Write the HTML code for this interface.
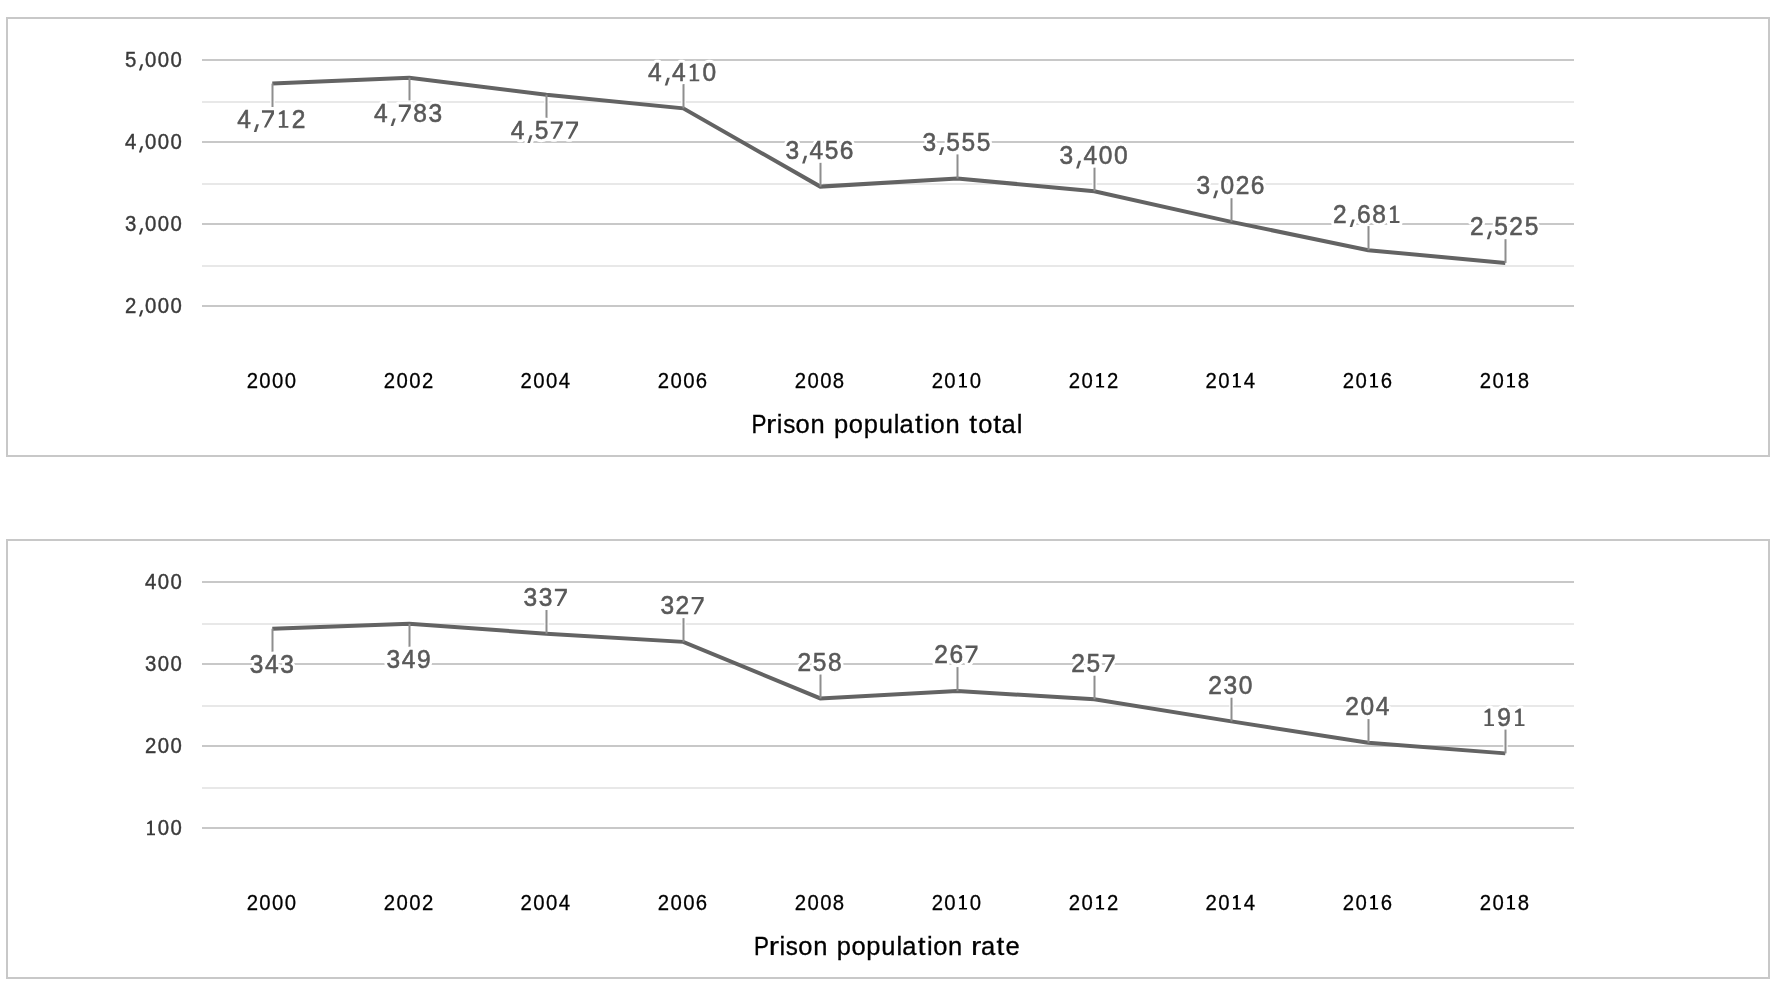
<!DOCTYPE html>
<html><head><meta charset="utf-8"><style>
html,body{margin:0;padding:0;background:#fff;width:1780px;height:986px;overflow:hidden}
svg{display:block;will-change:transform}
text{font-family:"Liberation Sans",sans-serif}
</style></head><body>
<svg width="1780" height="986" viewBox="0 0 1780 986">
<rect width="1780" height="986" fill="#fff"/>
<rect x="7" y="18" width="1762" height="438" fill="none" stroke="#c8c8c8" stroke-width="2"/>
<rect x="202" y="59" width="1372" height="2" fill="#c8c8c8"/>
<rect x="202" y="141" width="1372" height="2" fill="#c8c8c8"/>
<rect x="202" y="223" width="1372" height="2" fill="#c8c8c8"/>
<rect x="202" y="305" width="1372" height="2" fill="#c8c8c8"/>
<rect x="202" y="101" width="1372" height="2" fill="#e8e8e8"/>
<rect x="202" y="183" width="1372" height="2" fill="#e8e8e8"/>
<rect x="202" y="265" width="1372" height="2" fill="#e8e8e8"/>
<text transform="translate(125.08 67.20) scale(0.9588 1)" font-size="21.22" fill="#3a3a3a" stroke="#3a3a3a" stroke-width="0.417">5</text>
<polygon points="140.96,64.20 143.17,64.20 141.05,70.62 138.92,70.62" fill="#3a3a3a"/>
<text transform="translate(145.05 67.20) scale(0.9588 1)" font-size="21.22" fill="#3a3a3a" stroke="#3a3a3a" stroke-width="0.417">0</text>
<text transform="translate(157.76 67.20) scale(0.9588 1)" font-size="21.22" fill="#3a3a3a" stroke="#3a3a3a" stroke-width="0.417">0</text>
<text transform="translate(170.48 67.20) scale(0.9588 1)" font-size="21.22" fill="#3a3a3a" stroke="#3a3a3a" stroke-width="0.417">0</text>
<text transform="translate(125.12 149.20) scale(0.9588 1)" font-size="21.22" fill="#3a3a3a" stroke="#3a3a3a" stroke-width="0.417">4</text>
<polygon points="140.96,146.20 143.17,146.20 141.05,152.62 138.92,152.62" fill="#3a3a3a"/>
<text transform="translate(145.05 149.20) scale(0.9588 1)" font-size="21.22" fill="#3a3a3a" stroke="#3a3a3a" stroke-width="0.417">0</text>
<text transform="translate(157.76 149.20) scale(0.9588 1)" font-size="21.22" fill="#3a3a3a" stroke="#3a3a3a" stroke-width="0.417">0</text>
<text transform="translate(170.48 149.20) scale(0.9588 1)" font-size="21.22" fill="#3a3a3a" stroke="#3a3a3a" stroke-width="0.417">0</text>
<text transform="translate(125.12 231.20) scale(0.9588 1)" font-size="21.22" fill="#3a3a3a" stroke="#3a3a3a" stroke-width="0.417">3</text>
<polygon points="140.96,228.20 143.17,228.20 141.05,234.62 138.92,234.62" fill="#3a3a3a"/>
<text transform="translate(145.05 231.20) scale(0.9588 1)" font-size="21.22" fill="#3a3a3a" stroke="#3a3a3a" stroke-width="0.417">0</text>
<text transform="translate(157.76 231.20) scale(0.9588 1)" font-size="21.22" fill="#3a3a3a" stroke="#3a3a3a" stroke-width="0.417">0</text>
<text transform="translate(170.48 231.20) scale(0.9588 1)" font-size="21.22" fill="#3a3a3a" stroke="#3a3a3a" stroke-width="0.417">0</text>
<text transform="translate(125.06 313.20) scale(0.9588 1)" font-size="21.22" fill="#3a3a3a" stroke="#3a3a3a" stroke-width="0.417">2</text>
<polygon points="140.96,310.20 143.17,310.20 141.05,316.62 138.92,316.62" fill="#3a3a3a"/>
<text transform="translate(145.05 313.20) scale(0.9588 1)" font-size="21.22" fill="#3a3a3a" stroke="#3a3a3a" stroke-width="0.417">0</text>
<text transform="translate(157.76 313.20) scale(0.9588 1)" font-size="21.22" fill="#3a3a3a" stroke="#3a3a3a" stroke-width="0.417">0</text>
<text transform="translate(170.48 313.20) scale(0.9588 1)" font-size="21.22" fill="#3a3a3a" stroke="#3a3a3a" stroke-width="0.417">0</text>
<rect x="270.30" y="83.62" width="4.40" height="23.38" fill="#fff"/>
<rect x="407.30" y="77.79" width="4.40" height="22.61" fill="#fff"/>
<rect x="544.30" y="94.69" width="4.40" height="23.31" fill="#fff"/>
<rect x="681.30" y="84.00" width="4.40" height="24.38" fill="#fff"/>
<rect x="818.30" y="162.80" width="4.40" height="23.81" fill="#fff"/>
<rect x="955.30" y="154.40" width="4.40" height="24.09" fill="#fff"/>
<rect x="1092.30" y="167.60" width="4.40" height="23.60" fill="#fff"/>
<rect x="1229.30" y="198.20" width="4.40" height="23.67" fill="#fff"/>
<rect x="1366.30" y="226.10" width="4.40" height="24.06" fill="#fff"/>
<rect x="1503.30" y="239.20" width="4.40" height="23.75" fill="#fff"/>
<polyline fill="none" stroke="#636363" stroke-width="4.00" stroke-linejoin="miter" points="272.30,83.62 409.30,77.79 546.30,94.69 683.30,108.38 820.30,186.61 957.30,178.49 1094.30,191.20 1231.30,221.87 1368.30,250.16 1505.30,262.95"/>
<rect x="271.50" y="83.62" width="2" height="23.38" fill="#8e8e8e"/>
<rect x="408.50" y="77.79" width="2" height="22.61" fill="#8e8e8e"/>
<rect x="545.50" y="94.69" width="2" height="23.31" fill="#8e8e8e"/>
<rect x="682.50" y="84.00" width="2" height="24.38" fill="#8e8e8e"/>
<rect x="819.50" y="162.80" width="2" height="23.81" fill="#8e8e8e"/>
<rect x="956.50" y="154.40" width="2" height="24.09" fill="#8e8e8e"/>
<rect x="1093.50" y="167.60" width="2" height="23.60" fill="#8e8e8e"/>
<rect x="1230.50" y="198.20" width="2" height="23.67" fill="#8e8e8e"/>
<rect x="1367.50" y="226.10" width="2" height="24.06" fill="#8e8e8e"/>
<rect x="1504.50" y="239.20" width="2" height="23.75" fill="#8e8e8e"/>
<text transform="translate(237.25 127.80) scale(0.9588 1)" font-size="25.58" fill="#fff" stroke="#fff" stroke-width="6.26" stroke-linejoin="round">4</text>
<polygon points="256.29,124.20 258.94,124.20 256.39,131.90 253.84,131.90" fill="#fff" stroke="#fff" stroke-width="6.00" stroke-linejoin="round"/>
<polygon points="261.98,110.30 273.98,110.30 273.98,113.90 266.28,127.60 263.88,127.60 271.38,112.70 261.98,112.70" fill="#fff" stroke="#fff" stroke-width="6.00" stroke-linejoin="round"/>
<polygon points="283.09,110.25 284.74,110.25 284.74,125.90 288.39,125.90 288.39,127.80 278.89,127.80 278.89,125.90 282.24,125.90 282.24,114.10 278.89,114.50 278.89,113.10" fill="#fff" stroke="#fff" stroke-width="6.00" stroke-linejoin="round"/>
<text transform="translate(291.68 127.80) scale(0.9588 1)" font-size="25.58" fill="#fff" stroke="#fff" stroke-width="6.26" stroke-linejoin="round">2</text>
<text transform="translate(374.09 122.00) scale(0.9588 1)" font-size="25.58" fill="#fff" stroke="#fff" stroke-width="6.26" stroke-linejoin="round">4</text>
<polygon points="393.12,118.40 395.77,118.40 393.22,126.10 390.67,126.10" fill="#fff" stroke="#fff" stroke-width="6.00" stroke-linejoin="round"/>
<polygon points="398.82,104.50 410.82,104.50 410.82,108.10 403.12,121.80 400.72,121.80 408.22,106.90 398.82,106.90" fill="#fff" stroke="#fff" stroke-width="6.00" stroke-linejoin="round"/>
<text transform="translate(413.26 122.00) scale(0.9588 1)" font-size="25.58" fill="#fff" stroke="#fff" stroke-width="6.26" stroke-linejoin="round">8</text>
<text transform="translate(428.59 122.00) scale(0.9588 1)" font-size="25.58" fill="#fff" stroke="#fff" stroke-width="6.26" stroke-linejoin="round">3</text>
<text transform="translate(510.80 138.90) scale(0.9588 1)" font-size="25.58" fill="#fff" stroke="#fff" stroke-width="6.26" stroke-linejoin="round">4</text>
<polygon points="529.83,135.30 532.48,135.30 529.93,143.00 527.38,143.00" fill="#fff" stroke="#fff" stroke-width="6.00" stroke-linejoin="round"/>
<text transform="translate(534.73 138.90) scale(0.9588 1)" font-size="25.58" fill="#fff" stroke="#fff" stroke-width="6.26" stroke-linejoin="round">5</text>
<polygon points="550.78,121.40 562.78,121.40 562.78,125.00 555.08,138.70 552.68,138.70 560.18,123.80 550.78,123.80" fill="#fff" stroke="#fff" stroke-width="6.00" stroke-linejoin="round"/>
<polygon points="566.04,121.40 578.04,121.40 578.04,125.00 570.34,138.70 567.94,138.70 575.44,123.80 566.04,123.80" fill="#fff" stroke="#fff" stroke-width="6.00" stroke-linejoin="round"/>
<text transform="translate(648.11 81.30) scale(0.9588 1)" font-size="25.58" fill="#fff" stroke="#fff" stroke-width="6.26" stroke-linejoin="round">4</text>
<polygon points="667.15,77.70 669.80,77.70 667.25,85.40 664.70,85.40" fill="#fff" stroke="#fff" stroke-width="6.00" stroke-linejoin="round"/>
<text transform="translate(672.10 81.30) scale(0.9588 1)" font-size="25.58" fill="#fff" stroke="#fff" stroke-width="6.26" stroke-linejoin="round">4</text>
<polygon points="693.95,63.75 695.60,63.75 695.60,79.40 699.25,79.40 699.25,81.30 689.75,81.30 689.75,79.40 693.10,79.40 693.10,67.60 689.75,68.00 689.75,66.60" fill="#fff" stroke="#fff" stroke-width="6.00" stroke-linejoin="round"/>
<text transform="translate(702.54 81.30) scale(0.9588 1)" font-size="25.58" fill="#fff" stroke="#fff" stroke-width="6.26" stroke-linejoin="round">0</text>
<text transform="translate(785.48 159.40) scale(0.9588 1)" font-size="25.58" fill="#fff" stroke="#fff" stroke-width="6.26" stroke-linejoin="round">3</text>
<polygon points="804.52,155.80 807.17,155.80 804.62,163.50 802.07,163.50" fill="#fff" stroke="#fff" stroke-width="6.00" stroke-linejoin="round"/>
<text transform="translate(809.47 159.40) scale(0.9588 1)" font-size="25.58" fill="#fff" stroke="#fff" stroke-width="6.26" stroke-linejoin="round">4</text>
<text transform="translate(824.68 159.40) scale(0.9588 1)" font-size="25.58" fill="#fff" stroke="#fff" stroke-width="6.26" stroke-linejoin="round">5</text>
<text transform="translate(839.83 159.40) scale(0.9588 1)" font-size="25.58" fill="#fff" stroke="#fff" stroke-width="6.26" stroke-linejoin="round">6</text>
<text transform="translate(922.40 150.90) scale(0.9588 1)" font-size="25.58" fill="#fff" stroke="#fff" stroke-width="6.26" stroke-linejoin="round">3</text>
<polygon points="941.44,147.30 944.09,147.30 941.54,155.00 938.99,155.00" fill="#fff" stroke="#fff" stroke-width="6.00" stroke-linejoin="round"/>
<text transform="translate(946.34 150.90) scale(0.9588 1)" font-size="25.58" fill="#fff" stroke="#fff" stroke-width="6.26" stroke-linejoin="round">5</text>
<text transform="translate(961.60 150.90) scale(0.9588 1)" font-size="25.58" fill="#fff" stroke="#fff" stroke-width="6.26" stroke-linejoin="round">5</text>
<text transform="translate(976.86 150.90) scale(0.9588 1)" font-size="25.58" fill="#fff" stroke="#fff" stroke-width="6.26" stroke-linejoin="round">5</text>
<text transform="translate(1059.48 164.30) scale(0.9588 1)" font-size="25.58" fill="#fff" stroke="#fff" stroke-width="6.26" stroke-linejoin="round">3</text>
<polygon points="1078.52,160.70 1081.17,160.70 1078.62,168.40 1076.07,168.40" fill="#fff" stroke="#fff" stroke-width="6.00" stroke-linejoin="round"/>
<text transform="translate(1083.47 164.30) scale(0.9588 1)" font-size="25.58" fill="#fff" stroke="#fff" stroke-width="6.26" stroke-linejoin="round">4</text>
<text transform="translate(1098.65 164.30) scale(0.9588 1)" font-size="25.58" fill="#fff" stroke="#fff" stroke-width="6.26" stroke-linejoin="round">0</text>
<text transform="translate(1113.91 164.30) scale(0.9588 1)" font-size="25.58" fill="#fff" stroke="#fff" stroke-width="6.26" stroke-linejoin="round">0</text>
<text transform="translate(1196.48 194.20) scale(0.9588 1)" font-size="25.58" fill="#fff" stroke="#fff" stroke-width="6.26" stroke-linejoin="round">3</text>
<polygon points="1215.52,190.60 1218.17,190.60 1215.62,198.30 1213.07,198.30" fill="#fff" stroke="#fff" stroke-width="6.00" stroke-linejoin="round"/>
<text transform="translate(1220.39 194.20) scale(0.9588 1)" font-size="25.58" fill="#fff" stroke="#fff" stroke-width="6.26" stroke-linejoin="round">0</text>
<text transform="translate(1235.65 194.20) scale(0.9588 1)" font-size="25.58" fill="#fff" stroke="#fff" stroke-width="6.26" stroke-linejoin="round">2</text>
<text transform="translate(1250.83 194.20) scale(0.9588 1)" font-size="25.58" fill="#fff" stroke="#fff" stroke-width="6.26" stroke-linejoin="round">6</text>
<text transform="translate(1333.00 223.00) scale(0.9588 1)" font-size="25.58" fill="#fff" stroke="#fff" stroke-width="6.26" stroke-linejoin="round">2</text>
<polygon points="1352.11,219.40 1354.76,219.40 1352.21,227.10 1349.66,227.10" fill="#fff" stroke="#fff" stroke-width="6.00" stroke-linejoin="round"/>
<text transform="translate(1356.90 223.00) scale(0.9588 1)" font-size="25.58" fill="#fff" stroke="#fff" stroke-width="6.26" stroke-linejoin="round">6</text>
<text transform="translate(1372.24 223.00) scale(0.9588 1)" font-size="25.58" fill="#fff" stroke="#fff" stroke-width="6.26" stroke-linejoin="round">8</text>
<polygon points="1394.17,205.45 1395.82,205.45 1395.82,221.10 1399.47,221.10 1399.47,223.00 1389.97,223.00 1389.97,221.10 1393.32,221.10 1393.32,209.30 1389.97,209.70 1389.97,208.30" fill="#fff" stroke="#fff" stroke-width="6.00" stroke-linejoin="round"/>
<text transform="translate(1470.11 235.20) scale(0.9588 1)" font-size="25.58" fill="#fff" stroke="#fff" stroke-width="6.26" stroke-linejoin="round">2</text>
<polygon points="1489.23,231.60 1491.88,231.60 1489.33,239.30 1486.78,239.30" fill="#fff" stroke="#fff" stroke-width="6.00" stroke-linejoin="round"/>
<text transform="translate(1494.13 235.20) scale(0.9588 1)" font-size="25.58" fill="#fff" stroke="#fff" stroke-width="6.26" stroke-linejoin="round">5</text>
<text transform="translate(1509.36 235.20) scale(0.9588 1)" font-size="25.58" fill="#fff" stroke="#fff" stroke-width="6.26" stroke-linejoin="round">2</text>
<text transform="translate(1524.64 235.20) scale(0.9588 1)" font-size="25.58" fill="#fff" stroke="#fff" stroke-width="6.26" stroke-linejoin="round">5</text>
<text transform="translate(237.25 127.80) scale(0.9588 1)" font-size="25.58" fill="#595959" stroke="#595959" stroke-width="0.574">4</text>
<polygon points="256.29,124.20 258.94,124.20 256.39,131.90 253.84,131.90" fill="#595959"/>
<polygon points="261.98,110.30 273.98,110.30 273.98,113.90 266.28,127.60 263.88,127.60 271.38,112.70 261.98,112.70" fill="#595959"/>
<polygon points="283.09,110.25 284.74,110.25 284.74,125.90 288.39,125.90 288.39,127.80 278.89,127.80 278.89,125.90 282.24,125.90 282.24,114.10 278.89,114.50 278.89,113.10" fill="#595959"/>
<text transform="translate(291.68 127.80) scale(0.9588 1)" font-size="25.58" fill="#595959" stroke="#595959" stroke-width="0.574">2</text>
<text transform="translate(374.09 122.00) scale(0.9588 1)" font-size="25.58" fill="#595959" stroke="#595959" stroke-width="0.574">4</text>
<polygon points="393.12,118.40 395.77,118.40 393.22,126.10 390.67,126.10" fill="#595959"/>
<polygon points="398.82,104.50 410.82,104.50 410.82,108.10 403.12,121.80 400.72,121.80 408.22,106.90 398.82,106.90" fill="#595959"/>
<text transform="translate(413.26 122.00) scale(0.9588 1)" font-size="25.58" fill="#595959" stroke="#595959" stroke-width="0.574">8</text>
<text transform="translate(428.59 122.00) scale(0.9588 1)" font-size="25.58" fill="#595959" stroke="#595959" stroke-width="0.574">3</text>
<text transform="translate(510.80 138.90) scale(0.9588 1)" font-size="25.58" fill="#595959" stroke="#595959" stroke-width="0.574">4</text>
<polygon points="529.83,135.30 532.48,135.30 529.93,143.00 527.38,143.00" fill="#595959"/>
<text transform="translate(534.73 138.90) scale(0.9588 1)" font-size="25.58" fill="#595959" stroke="#595959" stroke-width="0.574">5</text>
<polygon points="550.78,121.40 562.78,121.40 562.78,125.00 555.08,138.70 552.68,138.70 560.18,123.80 550.78,123.80" fill="#595959"/>
<polygon points="566.04,121.40 578.04,121.40 578.04,125.00 570.34,138.70 567.94,138.70 575.44,123.80 566.04,123.80" fill="#595959"/>
<text transform="translate(648.11 81.30) scale(0.9588 1)" font-size="25.58" fill="#595959" stroke="#595959" stroke-width="0.574">4</text>
<polygon points="667.15,77.70 669.80,77.70 667.25,85.40 664.70,85.40" fill="#595959"/>
<text transform="translate(672.10 81.30) scale(0.9588 1)" font-size="25.58" fill="#595959" stroke="#595959" stroke-width="0.574">4</text>
<polygon points="693.95,63.75 695.60,63.75 695.60,79.40 699.25,79.40 699.25,81.30 689.75,81.30 689.75,79.40 693.10,79.40 693.10,67.60 689.75,68.00 689.75,66.60" fill="#595959"/>
<text transform="translate(702.54 81.30) scale(0.9588 1)" font-size="25.58" fill="#595959" stroke="#595959" stroke-width="0.574">0</text>
<text transform="translate(785.48 159.40) scale(0.9588 1)" font-size="25.58" fill="#595959" stroke="#595959" stroke-width="0.574">3</text>
<polygon points="804.52,155.80 807.17,155.80 804.62,163.50 802.07,163.50" fill="#595959"/>
<text transform="translate(809.47 159.40) scale(0.9588 1)" font-size="25.58" fill="#595959" stroke="#595959" stroke-width="0.574">4</text>
<text transform="translate(824.68 159.40) scale(0.9588 1)" font-size="25.58" fill="#595959" stroke="#595959" stroke-width="0.574">5</text>
<text transform="translate(839.83 159.40) scale(0.9588 1)" font-size="25.58" fill="#595959" stroke="#595959" stroke-width="0.574">6</text>
<text transform="translate(922.40 150.90) scale(0.9588 1)" font-size="25.58" fill="#595959" stroke="#595959" stroke-width="0.574">3</text>
<polygon points="941.44,147.30 944.09,147.30 941.54,155.00 938.99,155.00" fill="#595959"/>
<text transform="translate(946.34 150.90) scale(0.9588 1)" font-size="25.58" fill="#595959" stroke="#595959" stroke-width="0.574">5</text>
<text transform="translate(961.60 150.90) scale(0.9588 1)" font-size="25.58" fill="#595959" stroke="#595959" stroke-width="0.574">5</text>
<text transform="translate(976.86 150.90) scale(0.9588 1)" font-size="25.58" fill="#595959" stroke="#595959" stroke-width="0.574">5</text>
<text transform="translate(1059.48 164.30) scale(0.9588 1)" font-size="25.58" fill="#595959" stroke="#595959" stroke-width="0.574">3</text>
<polygon points="1078.52,160.70 1081.17,160.70 1078.62,168.40 1076.07,168.40" fill="#595959"/>
<text transform="translate(1083.47 164.30) scale(0.9588 1)" font-size="25.58" fill="#595959" stroke="#595959" stroke-width="0.574">4</text>
<text transform="translate(1098.65 164.30) scale(0.9588 1)" font-size="25.58" fill="#595959" stroke="#595959" stroke-width="0.574">0</text>
<text transform="translate(1113.91 164.30) scale(0.9588 1)" font-size="25.58" fill="#595959" stroke="#595959" stroke-width="0.574">0</text>
<text transform="translate(1196.48 194.20) scale(0.9588 1)" font-size="25.58" fill="#595959" stroke="#595959" stroke-width="0.574">3</text>
<polygon points="1215.52,190.60 1218.17,190.60 1215.62,198.30 1213.07,198.30" fill="#595959"/>
<text transform="translate(1220.39 194.20) scale(0.9588 1)" font-size="25.58" fill="#595959" stroke="#595959" stroke-width="0.574">0</text>
<text transform="translate(1235.65 194.20) scale(0.9588 1)" font-size="25.58" fill="#595959" stroke="#595959" stroke-width="0.574">2</text>
<text transform="translate(1250.83 194.20) scale(0.9588 1)" font-size="25.58" fill="#595959" stroke="#595959" stroke-width="0.574">6</text>
<text transform="translate(1333.00 223.00) scale(0.9588 1)" font-size="25.58" fill="#595959" stroke="#595959" stroke-width="0.574">2</text>
<polygon points="1352.11,219.40 1354.76,219.40 1352.21,227.10 1349.66,227.10" fill="#595959"/>
<text transform="translate(1356.90 223.00) scale(0.9588 1)" font-size="25.58" fill="#595959" stroke="#595959" stroke-width="0.574">6</text>
<text transform="translate(1372.24 223.00) scale(0.9588 1)" font-size="25.58" fill="#595959" stroke="#595959" stroke-width="0.574">8</text>
<polygon points="1394.17,205.45 1395.82,205.45 1395.82,221.10 1399.47,221.10 1399.47,223.00 1389.97,223.00 1389.97,221.10 1393.32,221.10 1393.32,209.30 1389.97,209.70 1389.97,208.30" fill="#595959"/>
<text transform="translate(1470.11 235.20) scale(0.9588 1)" font-size="25.58" fill="#595959" stroke="#595959" stroke-width="0.574">2</text>
<polygon points="1489.23,231.60 1491.88,231.60 1489.33,239.30 1486.78,239.30" fill="#595959"/>
<text transform="translate(1494.13 235.20) scale(0.9588 1)" font-size="25.58" fill="#595959" stroke="#595959" stroke-width="0.574">5</text>
<text transform="translate(1509.36 235.20) scale(0.9588 1)" font-size="25.58" fill="#595959" stroke="#595959" stroke-width="0.574">2</text>
<text transform="translate(1524.64 235.20) scale(0.9588 1)" font-size="25.58" fill="#595959" stroke="#595959" stroke-width="0.574">5</text>
<text transform="translate(246.66 387.60) scale(0.9588 1)" font-size="21.22" fill="#000000" stroke="#000000" stroke-width="0.261">2</text>
<text transform="translate(259.37 387.60) scale(0.9588 1)" font-size="21.22" fill="#000000" stroke="#000000" stroke-width="0.261">0</text>
<text transform="translate(272.09 387.60) scale(0.9588 1)" font-size="21.22" fill="#000000" stroke="#000000" stroke-width="0.261">0</text>
<text transform="translate(284.80 387.60) scale(0.9588 1)" font-size="21.22" fill="#000000" stroke="#000000" stroke-width="0.261">0</text>
<text transform="translate(383.77 387.60) scale(0.9588 1)" font-size="21.22" fill="#000000" stroke="#000000" stroke-width="0.261">2</text>
<text transform="translate(396.48 387.60) scale(0.9588 1)" font-size="21.22" fill="#000000" stroke="#000000" stroke-width="0.261">0</text>
<text transform="translate(409.20 387.60) scale(0.9588 1)" font-size="21.22" fill="#000000" stroke="#000000" stroke-width="0.261">0</text>
<text transform="translate(421.91 387.60) scale(0.9588 1)" font-size="21.22" fill="#000000" stroke="#000000" stroke-width="0.261">2</text>
<text transform="translate(520.52 387.60) scale(0.9588 1)" font-size="21.22" fill="#000000" stroke="#000000" stroke-width="0.261">2</text>
<text transform="translate(533.24 387.60) scale(0.9588 1)" font-size="21.22" fill="#000000" stroke="#000000" stroke-width="0.261">0</text>
<text transform="translate(545.95 387.60) scale(0.9588 1)" font-size="21.22" fill="#000000" stroke="#000000" stroke-width="0.261">0</text>
<text transform="translate(558.73 387.60) scale(0.9588 1)" font-size="21.22" fill="#000000" stroke="#000000" stroke-width="0.261">4</text>
<text transform="translate(657.74 387.60) scale(0.9588 1)" font-size="21.22" fill="#000000" stroke="#000000" stroke-width="0.261">2</text>
<text transform="translate(670.45 387.60) scale(0.9588 1)" font-size="21.22" fill="#000000" stroke="#000000" stroke-width="0.261">0</text>
<text transform="translate(683.17 387.60) scale(0.9588 1)" font-size="21.22" fill="#000000" stroke="#000000" stroke-width="0.261">0</text>
<text transform="translate(695.81 387.60) scale(0.9588 1)" font-size="21.22" fill="#000000" stroke="#000000" stroke-width="0.261">6</text>
<text transform="translate(794.70 387.60) scale(0.9588 1)" font-size="21.22" fill="#000000" stroke="#000000" stroke-width="0.261">2</text>
<text transform="translate(807.42 387.60) scale(0.9588 1)" font-size="21.22" fill="#000000" stroke="#000000" stroke-width="0.261">0</text>
<text transform="translate(820.13 387.60) scale(0.9588 1)" font-size="21.22" fill="#000000" stroke="#000000" stroke-width="0.261">0</text>
<text transform="translate(832.84 387.60) scale(0.9588 1)" font-size="21.22" fill="#000000" stroke="#000000" stroke-width="0.261">8</text>
<text transform="translate(931.66 387.60) scale(0.9588 1)" font-size="21.22" fill="#000000" stroke="#000000" stroke-width="0.261">2</text>
<text transform="translate(944.37 387.60) scale(0.9588 1)" font-size="21.22" fill="#000000" stroke="#000000" stroke-width="0.261">0</text>
<polygon points="962.62,372.98 963.99,372.98 963.99,386.02 967.03,386.02 967.03,387.60 959.12,387.60 959.12,386.02 961.91,386.02 961.91,376.18 959.12,376.52 959.12,375.35" fill="#000000"/>
<text transform="translate(969.80 387.60) scale(0.9588 1)" font-size="21.22" fill="#000000" stroke="#000000" stroke-width="0.261">0</text>
<text transform="translate(1068.77 387.60) scale(0.9588 1)" font-size="21.22" fill="#000000" stroke="#000000" stroke-width="0.261">2</text>
<text transform="translate(1081.48 387.60) scale(0.9588 1)" font-size="21.22" fill="#000000" stroke="#000000" stroke-width="0.261">0</text>
<polygon points="1099.73,372.98 1101.11,372.98 1101.11,386.02 1104.15,386.02 1104.15,387.60 1096.23,387.60 1096.23,386.02 1099.02,386.02 1099.02,376.18 1096.23,376.52 1096.23,375.35" fill="#000000"/>
<text transform="translate(1106.91 387.60) scale(0.9588 1)" font-size="21.22" fill="#000000" stroke="#000000" stroke-width="0.261">2</text>
<text transform="translate(1205.52 387.60) scale(0.9588 1)" font-size="21.22" fill="#000000" stroke="#000000" stroke-width="0.261">2</text>
<text transform="translate(1218.24 387.60) scale(0.9588 1)" font-size="21.22" fill="#000000" stroke="#000000" stroke-width="0.261">0</text>
<polygon points="1236.49,372.98 1237.86,372.98 1237.86,386.02 1240.90,386.02 1240.90,387.60 1232.99,387.60 1232.99,386.02 1235.78,386.02 1235.78,376.18 1232.99,376.52 1232.99,375.35" fill="#000000"/>
<text transform="translate(1243.73 387.60) scale(0.9588 1)" font-size="21.22" fill="#000000" stroke="#000000" stroke-width="0.261">4</text>
<text transform="translate(1342.74 387.60) scale(0.9588 1)" font-size="21.22" fill="#000000" stroke="#000000" stroke-width="0.261">2</text>
<text transform="translate(1355.45 387.60) scale(0.9588 1)" font-size="21.22" fill="#000000" stroke="#000000" stroke-width="0.261">0</text>
<polygon points="1373.70,372.98 1375.08,372.98 1375.08,386.02 1378.12,386.02 1378.12,387.60 1370.20,387.60 1370.20,386.02 1372.99,386.02 1372.99,376.18 1370.20,376.52 1370.20,375.35" fill="#000000"/>
<text transform="translate(1380.81 387.60) scale(0.9588 1)" font-size="21.22" fill="#000000" stroke="#000000" stroke-width="0.261">6</text>
<text transform="translate(1479.70 387.60) scale(0.9588 1)" font-size="21.22" fill="#000000" stroke="#000000" stroke-width="0.261">2</text>
<text transform="translate(1492.42 387.60) scale(0.9588 1)" font-size="21.22" fill="#000000" stroke="#000000" stroke-width="0.261">0</text>
<polygon points="1510.66,372.98 1512.04,372.98 1512.04,386.02 1515.08,386.02 1515.08,387.60 1507.16,387.60 1507.16,386.02 1509.95,386.02 1509.95,376.18 1507.16,376.52 1507.16,375.35" fill="#000000"/>
<text transform="translate(1517.84 387.60) scale(0.9588 1)" font-size="21.22" fill="#000000" stroke="#000000" stroke-width="0.261">8</text>
<text transform="translate(751.43 432.90) scale(0.8976 1)" font-size="25.00" fill="#000000" stroke="#000000" stroke-width="0.334">P</text>
<text transform="translate(766.00 432.90) scale(1.2444 1)" font-size="25.00" fill="#000000" stroke="#000000" stroke-width="0.241">r</text>
<text transform="translate(776.80 432.90) scale(1.0200 1)" font-size="25.00" fill="#000000" stroke="#000000" stroke-width="0.294">i</text>
<text transform="translate(783.20 432.90) scale(0.9690 1)" font-size="25.00" fill="#000000" stroke="#000000" stroke-width="0.310">s</text>
<text transform="translate(795.60 432.90) scale(1.0200 1)" font-size="25.00" fill="#000000" stroke="#000000" stroke-width="0.294">o</text>
<text transform="translate(810.48 432.90) scale(1.0200 1)" font-size="25.00" fill="#000000" stroke="#000000" stroke-width="0.294">n</text>
<text transform="translate(834.11 432.90) scale(1.0200 1)" font-size="25.00" fill="#000000" stroke="#000000" stroke-width="0.294">p</text>
<text transform="translate(848.79 432.90) scale(1.0200 1)" font-size="25.00" fill="#000000" stroke="#000000" stroke-width="0.294">o</text>
<text transform="translate(863.63 432.90) scale(1.0200 1)" font-size="25.00" fill="#000000" stroke="#000000" stroke-width="0.294">p</text>
<text transform="translate(878.67 432.90) scale(1.0200 1)" font-size="25.00" fill="#000000" stroke="#000000" stroke-width="0.294">u</text>
<text transform="translate(893.79 432.90) scale(1.0200 1)" font-size="25.00" fill="#000000" stroke="#000000" stroke-width="0.294">l</text>
<text transform="translate(899.47 432.90) scale(1.0200 1)" font-size="25.00" fill="#000000" stroke="#000000" stroke-width="0.294">a</text>
<text transform="translate(915.03 432.90) scale(1.1220 1)" font-size="25.00" fill="#000000" stroke="#000000" stroke-width="0.267">t</text>
<text transform="translate(924.21 432.90) scale(1.0200 1)" font-size="25.00" fill="#000000" stroke="#000000" stroke-width="0.294">i</text>
<text transform="translate(930.51 432.90) scale(1.0200 1)" font-size="25.00" fill="#000000" stroke="#000000" stroke-width="0.294">o</text>
<text transform="translate(945.39 432.90) scale(1.0200 1)" font-size="25.00" fill="#000000" stroke="#000000" stroke-width="0.294">n</text>
<text transform="translate(969.28 432.90) scale(1.1220 1)" font-size="25.00" fill="#000000" stroke="#000000" stroke-width="0.267">t</text>
<text transform="translate(978.20 432.90) scale(1.0200 1)" font-size="25.00" fill="#000000" stroke="#000000" stroke-width="0.294">o</text>
<text transform="translate(993.30 432.90) scale(1.1220 1)" font-size="25.00" fill="#000000" stroke="#000000" stroke-width="0.267">t</text>
<text transform="translate(1001.60 432.90) scale(1.0200 1)" font-size="25.00" fill="#000000" stroke="#000000" stroke-width="0.294">a</text>
<text transform="translate(1016.87 432.90) scale(1.0200 1)" font-size="25.00" fill="#000000" stroke="#000000" stroke-width="0.294">l</text>
<rect x="7" y="540" width="1762" height="438" fill="none" stroke="#c8c8c8" stroke-width="2"/>
<rect x="202" y="581" width="1372" height="2" fill="#c8c8c8"/>
<rect x="202" y="663" width="1372" height="2" fill="#c8c8c8"/>
<rect x="202" y="745" width="1372" height="2" fill="#c8c8c8"/>
<rect x="202" y="827" width="1372" height="2" fill="#c8c8c8"/>
<rect x="202" y="623" width="1372" height="2" fill="#e8e8e8"/>
<rect x="202" y="705" width="1372" height="2" fill="#e8e8e8"/>
<rect x="202" y="787" width="1372" height="2" fill="#e8e8e8"/>
<text transform="translate(145.11 589.20) scale(0.9588 1)" font-size="21.22" fill="#3a3a3a" stroke="#3a3a3a" stroke-width="0.417">4</text>
<text transform="translate(157.76 589.20) scale(0.9588 1)" font-size="21.22" fill="#3a3a3a" stroke="#3a3a3a" stroke-width="0.417">0</text>
<text transform="translate(170.48 589.20) scale(0.9588 1)" font-size="21.22" fill="#3a3a3a" stroke="#3a3a3a" stroke-width="0.417">0</text>
<text transform="translate(145.11 671.20) scale(0.9588 1)" font-size="21.22" fill="#3a3a3a" stroke="#3a3a3a" stroke-width="0.417">3</text>
<text transform="translate(157.76 671.20) scale(0.9588 1)" font-size="21.22" fill="#3a3a3a" stroke="#3a3a3a" stroke-width="0.417">0</text>
<text transform="translate(170.48 671.20) scale(0.9588 1)" font-size="21.22" fill="#3a3a3a" stroke="#3a3a3a" stroke-width="0.417">0</text>
<text transform="translate(145.05 753.20) scale(0.9588 1)" font-size="21.22" fill="#3a3a3a" stroke="#3a3a3a" stroke-width="0.417">2</text>
<text transform="translate(157.76 753.20) scale(0.9588 1)" font-size="21.22" fill="#3a3a3a" stroke="#3a3a3a" stroke-width="0.417">0</text>
<text transform="translate(170.48 753.20) scale(0.9588 1)" font-size="21.22" fill="#3a3a3a" stroke="#3a3a3a" stroke-width="0.417">0</text>
<polygon points="150.58,820.58 151.96,820.58 151.96,833.62 155.00,833.62 155.00,835.20 147.08,835.20 147.08,833.62 149.87,833.62 149.87,823.78 147.08,824.12 147.08,822.95" fill="#3a3a3a"/>
<text transform="translate(157.76 835.20) scale(0.9588 1)" font-size="21.22" fill="#3a3a3a" stroke="#3a3a3a" stroke-width="0.417">0</text>
<text transform="translate(170.48 835.20) scale(0.9588 1)" font-size="21.22" fill="#3a3a3a" stroke="#3a3a3a" stroke-width="0.417">0</text>
<rect x="270.30" y="628.74" width="4.40" height="23.06" fill="#fff"/>
<rect x="407.30" y="623.82" width="4.40" height="23.08" fill="#fff"/>
<rect x="544.30" y="610.00" width="4.40" height="23.66" fill="#fff"/>
<rect x="681.30" y="618.10" width="4.40" height="23.76" fill="#fff"/>
<rect x="818.30" y="674.50" width="4.40" height="23.94" fill="#fff"/>
<rect x="955.30" y="667.10" width="4.40" height="23.96" fill="#fff"/>
<rect x="1092.30" y="675.70" width="4.40" height="23.56" fill="#fff"/>
<rect x="1229.30" y="697.70" width="4.40" height="23.70" fill="#fff"/>
<rect x="1366.30" y="719.10" width="4.40" height="23.62" fill="#fff"/>
<rect x="1503.30" y="729.60" width="4.40" height="23.78" fill="#fff"/>
<polyline fill="none" stroke="#636363" stroke-width="4.00" stroke-linejoin="miter" points="272.30,628.74 409.30,623.82 546.30,633.66 683.30,641.86 820.30,698.44 957.30,691.06 1094.30,699.26 1231.30,721.40 1368.30,742.72 1505.30,753.38"/>
<rect x="271.50" y="628.74" width="2" height="23.06" fill="#8e8e8e"/>
<rect x="408.50" y="623.82" width="2" height="23.08" fill="#8e8e8e"/>
<rect x="545.50" y="610.00" width="2" height="23.66" fill="#8e8e8e"/>
<rect x="682.50" y="618.10" width="2" height="23.76" fill="#8e8e8e"/>
<rect x="819.50" y="674.50" width="2" height="23.94" fill="#8e8e8e"/>
<rect x="956.50" y="667.10" width="2" height="23.96" fill="#8e8e8e"/>
<rect x="1093.50" y="675.70" width="2" height="23.56" fill="#8e8e8e"/>
<rect x="1230.50" y="697.70" width="2" height="23.70" fill="#8e8e8e"/>
<rect x="1367.50" y="719.10" width="2" height="23.62" fill="#8e8e8e"/>
<rect x="1504.50" y="729.60" width="2" height="23.78" fill="#8e8e8e"/>
<text transform="translate(249.69 673.40) scale(0.9588 1)" font-size="25.58" fill="#fff" stroke="#fff" stroke-width="6.26" stroke-linejoin="round">3</text>
<text transform="translate(264.96 673.40) scale(0.9588 1)" font-size="25.58" fill="#fff" stroke="#fff" stroke-width="6.26" stroke-linejoin="round">4</text>
<text transform="translate(280.21 673.40) scale(0.9588 1)" font-size="25.58" fill="#fff" stroke="#fff" stroke-width="6.26" stroke-linejoin="round">3</text>
<text transform="translate(386.57 668.40) scale(0.9588 1)" font-size="25.58" fill="#fff" stroke="#fff" stroke-width="6.26" stroke-linejoin="round">3</text>
<text transform="translate(401.83 668.40) scale(0.9588 1)" font-size="25.58" fill="#fff" stroke="#fff" stroke-width="6.26" stroke-linejoin="round">4</text>
<text transform="translate(417.02 668.40) scale(0.9588 1)" font-size="25.58" fill="#fff" stroke="#fff" stroke-width="6.26" stroke-linejoin="round">9</text>
<text transform="translate(523.60 606.30) scale(0.9588 1)" font-size="25.58" fill="#fff" stroke="#fff" stroke-width="6.26" stroke-linejoin="round">3</text>
<text transform="translate(538.86 606.30) scale(0.9588 1)" font-size="25.58" fill="#fff" stroke="#fff" stroke-width="6.26" stroke-linejoin="round">3</text>
<polygon points="554.87,588.80 566.87,588.80 566.87,592.40 559.17,606.10 556.77,606.10 564.27,591.20 554.87,591.20" fill="#fff" stroke="#fff" stroke-width="6.00" stroke-linejoin="round"/>
<text transform="translate(660.40 614.40) scale(0.9588 1)" font-size="25.58" fill="#fff" stroke="#fff" stroke-width="6.26" stroke-linejoin="round">3</text>
<text transform="translate(675.59 614.40) scale(0.9588 1)" font-size="25.58" fill="#fff" stroke="#fff" stroke-width="6.26" stroke-linejoin="round">2</text>
<polygon points="691.67,596.90 703.67,596.90 703.67,600.50 695.97,614.20 693.57,614.20 701.07,599.30 691.67,599.30" fill="#fff" stroke="#fff" stroke-width="6.00" stroke-linejoin="round"/>
<text transform="translate(797.39 671.10) scale(0.9588 1)" font-size="25.58" fill="#fff" stroke="#fff" stroke-width="6.26" stroke-linejoin="round">2</text>
<text transform="translate(812.67 671.10) scale(0.9588 1)" font-size="25.58" fill="#fff" stroke="#fff" stroke-width="6.26" stroke-linejoin="round">5</text>
<text transform="translate(827.90 671.10) scale(0.9588 1)" font-size="25.58" fill="#fff" stroke="#fff" stroke-width="6.26" stroke-linejoin="round">8</text>
<text transform="translate(934.22 663.00) scale(0.9588 1)" font-size="25.58" fill="#fff" stroke="#fff" stroke-width="6.26" stroke-linejoin="round">2</text>
<text transform="translate(949.39 663.00) scale(0.9588 1)" font-size="25.58" fill="#fff" stroke="#fff" stroke-width="6.26" stroke-linejoin="round">6</text>
<polygon points="965.55,645.50 977.55,645.50 977.55,649.10 969.85,662.80 967.45,662.80 974.95,647.90 965.55,647.90" fill="#fff" stroke="#fff" stroke-width="6.00" stroke-linejoin="round"/>
<text transform="translate(1071.32 672.10) scale(0.9588 1)" font-size="25.58" fill="#fff" stroke="#fff" stroke-width="6.26" stroke-linejoin="round">2</text>
<text transform="translate(1086.60 672.10) scale(0.9588 1)" font-size="25.58" fill="#fff" stroke="#fff" stroke-width="6.26" stroke-linejoin="round">5</text>
<polygon points="1102.65,654.60 1114.65,654.60 1114.65,658.20 1106.95,671.90 1104.55,671.90 1112.05,657.00 1102.65,657.00" fill="#fff" stroke="#fff" stroke-width="6.00" stroke-linejoin="round"/>
<text transform="translate(1208.28 694.20) scale(0.9588 1)" font-size="25.58" fill="#fff" stroke="#fff" stroke-width="6.26" stroke-linejoin="round">2</text>
<text transform="translate(1223.61 694.20) scale(0.9588 1)" font-size="25.58" fill="#fff" stroke="#fff" stroke-width="6.26" stroke-linejoin="round">3</text>
<text transform="translate(1238.80 694.20) scale(0.9588 1)" font-size="25.58" fill="#fff" stroke="#fff" stroke-width="6.26" stroke-linejoin="round">0</text>
<text transform="translate(1345.13 715.10) scale(0.9588 1)" font-size="25.58" fill="#fff" stroke="#fff" stroke-width="6.26" stroke-linejoin="round">2</text>
<text transform="translate(1360.38 715.10) scale(0.9588 1)" font-size="25.58" fill="#fff" stroke="#fff" stroke-width="6.26" stroke-linejoin="round">0</text>
<text transform="translate(1375.72 715.10) scale(0.9588 1)" font-size="25.58" fill="#fff" stroke="#fff" stroke-width="6.26" stroke-linejoin="round">4</text>
<polygon points="1488.69,708.55 1490.34,708.55 1490.34,724.20 1493.99,724.20 1493.99,726.10 1484.49,726.10 1484.49,724.20 1487.84,724.20 1487.84,712.40 1484.49,712.80 1484.49,711.40" fill="#fff" stroke="#fff" stroke-width="6.00" stroke-linejoin="round"/>
<text transform="translate(1497.29 726.10) scale(0.9588 1)" font-size="25.58" fill="#fff" stroke="#fff" stroke-width="6.26" stroke-linejoin="round">9</text>
<polygon points="1519.21,708.55 1520.86,708.55 1520.86,724.20 1524.51,724.20 1524.51,726.10 1515.01,726.10 1515.01,724.20 1518.36,724.20 1518.36,712.40 1515.01,712.80 1515.01,711.40" fill="#fff" stroke="#fff" stroke-width="6.00" stroke-linejoin="round"/>
<text transform="translate(249.69 673.40) scale(0.9588 1)" font-size="25.58" fill="#595959" stroke="#595959" stroke-width="0.574">3</text>
<text transform="translate(264.96 673.40) scale(0.9588 1)" font-size="25.58" fill="#595959" stroke="#595959" stroke-width="0.574">4</text>
<text transform="translate(280.21 673.40) scale(0.9588 1)" font-size="25.58" fill="#595959" stroke="#595959" stroke-width="0.574">3</text>
<text transform="translate(386.57 668.40) scale(0.9588 1)" font-size="25.58" fill="#595959" stroke="#595959" stroke-width="0.574">3</text>
<text transform="translate(401.83 668.40) scale(0.9588 1)" font-size="25.58" fill="#595959" stroke="#595959" stroke-width="0.574">4</text>
<text transform="translate(417.02 668.40) scale(0.9588 1)" font-size="25.58" fill="#595959" stroke="#595959" stroke-width="0.574">9</text>
<text transform="translate(523.60 606.30) scale(0.9588 1)" font-size="25.58" fill="#595959" stroke="#595959" stroke-width="0.574">3</text>
<text transform="translate(538.86 606.30) scale(0.9588 1)" font-size="25.58" fill="#595959" stroke="#595959" stroke-width="0.574">3</text>
<polygon points="554.87,588.80 566.87,588.80 566.87,592.40 559.17,606.10 556.77,606.10 564.27,591.20 554.87,591.20" fill="#595959"/>
<text transform="translate(660.40 614.40) scale(0.9588 1)" font-size="25.58" fill="#595959" stroke="#595959" stroke-width="0.574">3</text>
<text transform="translate(675.59 614.40) scale(0.9588 1)" font-size="25.58" fill="#595959" stroke="#595959" stroke-width="0.574">2</text>
<polygon points="691.67,596.90 703.67,596.90 703.67,600.50 695.97,614.20 693.57,614.20 701.07,599.30 691.67,599.30" fill="#595959"/>
<text transform="translate(797.39 671.10) scale(0.9588 1)" font-size="25.58" fill="#595959" stroke="#595959" stroke-width="0.574">2</text>
<text transform="translate(812.67 671.10) scale(0.9588 1)" font-size="25.58" fill="#595959" stroke="#595959" stroke-width="0.574">5</text>
<text transform="translate(827.90 671.10) scale(0.9588 1)" font-size="25.58" fill="#595959" stroke="#595959" stroke-width="0.574">8</text>
<text transform="translate(934.22 663.00) scale(0.9588 1)" font-size="25.58" fill="#595959" stroke="#595959" stroke-width="0.574">2</text>
<text transform="translate(949.39 663.00) scale(0.9588 1)" font-size="25.58" fill="#595959" stroke="#595959" stroke-width="0.574">6</text>
<polygon points="965.55,645.50 977.55,645.50 977.55,649.10 969.85,662.80 967.45,662.80 974.95,647.90 965.55,647.90" fill="#595959"/>
<text transform="translate(1071.32 672.10) scale(0.9588 1)" font-size="25.58" fill="#595959" stroke="#595959" stroke-width="0.574">2</text>
<text transform="translate(1086.60 672.10) scale(0.9588 1)" font-size="25.58" fill="#595959" stroke="#595959" stroke-width="0.574">5</text>
<polygon points="1102.65,654.60 1114.65,654.60 1114.65,658.20 1106.95,671.90 1104.55,671.90 1112.05,657.00 1102.65,657.00" fill="#595959"/>
<text transform="translate(1208.28 694.20) scale(0.9588 1)" font-size="25.58" fill="#595959" stroke="#595959" stroke-width="0.574">2</text>
<text transform="translate(1223.61 694.20) scale(0.9588 1)" font-size="25.58" fill="#595959" stroke="#595959" stroke-width="0.574">3</text>
<text transform="translate(1238.80 694.20) scale(0.9588 1)" font-size="25.58" fill="#595959" stroke="#595959" stroke-width="0.574">0</text>
<text transform="translate(1345.13 715.10) scale(0.9588 1)" font-size="25.58" fill="#595959" stroke="#595959" stroke-width="0.574">2</text>
<text transform="translate(1360.38 715.10) scale(0.9588 1)" font-size="25.58" fill="#595959" stroke="#595959" stroke-width="0.574">0</text>
<text transform="translate(1375.72 715.10) scale(0.9588 1)" font-size="25.58" fill="#595959" stroke="#595959" stroke-width="0.574">4</text>
<polygon points="1488.69,708.55 1490.34,708.55 1490.34,724.20 1493.99,724.20 1493.99,726.10 1484.49,726.10 1484.49,724.20 1487.84,724.20 1487.84,712.40 1484.49,712.80 1484.49,711.40" fill="#595959"/>
<text transform="translate(1497.29 726.10) scale(0.9588 1)" font-size="25.58" fill="#595959" stroke="#595959" stroke-width="0.574">9</text>
<polygon points="1519.21,708.55 1520.86,708.55 1520.86,724.20 1524.51,724.20 1524.51,726.10 1515.01,726.10 1515.01,724.20 1518.36,724.20 1518.36,712.40 1515.01,712.80 1515.01,711.40" fill="#595959"/>
<text transform="translate(246.66 909.60) scale(0.9588 1)" font-size="21.22" fill="#000000" stroke="#000000" stroke-width="0.261">2</text>
<text transform="translate(259.37 909.60) scale(0.9588 1)" font-size="21.22" fill="#000000" stroke="#000000" stroke-width="0.261">0</text>
<text transform="translate(272.09 909.60) scale(0.9588 1)" font-size="21.22" fill="#000000" stroke="#000000" stroke-width="0.261">0</text>
<text transform="translate(284.80 909.60) scale(0.9588 1)" font-size="21.22" fill="#000000" stroke="#000000" stroke-width="0.261">0</text>
<text transform="translate(383.77 909.60) scale(0.9588 1)" font-size="21.22" fill="#000000" stroke="#000000" stroke-width="0.261">2</text>
<text transform="translate(396.48 909.60) scale(0.9588 1)" font-size="21.22" fill="#000000" stroke="#000000" stroke-width="0.261">0</text>
<text transform="translate(409.20 909.60) scale(0.9588 1)" font-size="21.22" fill="#000000" stroke="#000000" stroke-width="0.261">0</text>
<text transform="translate(421.91 909.60) scale(0.9588 1)" font-size="21.22" fill="#000000" stroke="#000000" stroke-width="0.261">2</text>
<text transform="translate(520.52 909.60) scale(0.9588 1)" font-size="21.22" fill="#000000" stroke="#000000" stroke-width="0.261">2</text>
<text transform="translate(533.24 909.60) scale(0.9588 1)" font-size="21.22" fill="#000000" stroke="#000000" stroke-width="0.261">0</text>
<text transform="translate(545.95 909.60) scale(0.9588 1)" font-size="21.22" fill="#000000" stroke="#000000" stroke-width="0.261">0</text>
<text transform="translate(558.73 909.60) scale(0.9588 1)" font-size="21.22" fill="#000000" stroke="#000000" stroke-width="0.261">4</text>
<text transform="translate(657.74 909.60) scale(0.9588 1)" font-size="21.22" fill="#000000" stroke="#000000" stroke-width="0.261">2</text>
<text transform="translate(670.45 909.60) scale(0.9588 1)" font-size="21.22" fill="#000000" stroke="#000000" stroke-width="0.261">0</text>
<text transform="translate(683.17 909.60) scale(0.9588 1)" font-size="21.22" fill="#000000" stroke="#000000" stroke-width="0.261">0</text>
<text transform="translate(695.81 909.60) scale(0.9588 1)" font-size="21.22" fill="#000000" stroke="#000000" stroke-width="0.261">6</text>
<text transform="translate(794.70 909.60) scale(0.9588 1)" font-size="21.22" fill="#000000" stroke="#000000" stroke-width="0.261">2</text>
<text transform="translate(807.42 909.60) scale(0.9588 1)" font-size="21.22" fill="#000000" stroke="#000000" stroke-width="0.261">0</text>
<text transform="translate(820.13 909.60) scale(0.9588 1)" font-size="21.22" fill="#000000" stroke="#000000" stroke-width="0.261">0</text>
<text transform="translate(832.84 909.60) scale(0.9588 1)" font-size="21.22" fill="#000000" stroke="#000000" stroke-width="0.261">8</text>
<text transform="translate(931.66 909.60) scale(0.9588 1)" font-size="21.22" fill="#000000" stroke="#000000" stroke-width="0.261">2</text>
<text transform="translate(944.37 909.60) scale(0.9588 1)" font-size="21.22" fill="#000000" stroke="#000000" stroke-width="0.261">0</text>
<polygon points="962.62,894.98 963.99,894.98 963.99,908.02 967.03,908.02 967.03,909.60 959.12,909.60 959.12,908.02 961.91,908.02 961.91,898.18 959.12,898.52 959.12,897.35" fill="#000000"/>
<text transform="translate(969.80 909.60) scale(0.9588 1)" font-size="21.22" fill="#000000" stroke="#000000" stroke-width="0.261">0</text>
<text transform="translate(1068.77 909.60) scale(0.9588 1)" font-size="21.22" fill="#000000" stroke="#000000" stroke-width="0.261">2</text>
<text transform="translate(1081.48 909.60) scale(0.9588 1)" font-size="21.22" fill="#000000" stroke="#000000" stroke-width="0.261">0</text>
<polygon points="1099.73,894.98 1101.11,894.98 1101.11,908.02 1104.15,908.02 1104.15,909.60 1096.23,909.60 1096.23,908.02 1099.02,908.02 1099.02,898.18 1096.23,898.52 1096.23,897.35" fill="#000000"/>
<text transform="translate(1106.91 909.60) scale(0.9588 1)" font-size="21.22" fill="#000000" stroke="#000000" stroke-width="0.261">2</text>
<text transform="translate(1205.52 909.60) scale(0.9588 1)" font-size="21.22" fill="#000000" stroke="#000000" stroke-width="0.261">2</text>
<text transform="translate(1218.24 909.60) scale(0.9588 1)" font-size="21.22" fill="#000000" stroke="#000000" stroke-width="0.261">0</text>
<polygon points="1236.49,894.98 1237.86,894.98 1237.86,908.02 1240.90,908.02 1240.90,909.60 1232.99,909.60 1232.99,908.02 1235.78,908.02 1235.78,898.18 1232.99,898.52 1232.99,897.35" fill="#000000"/>
<text transform="translate(1243.73 909.60) scale(0.9588 1)" font-size="21.22" fill="#000000" stroke="#000000" stroke-width="0.261">4</text>
<text transform="translate(1342.74 909.60) scale(0.9588 1)" font-size="21.22" fill="#000000" stroke="#000000" stroke-width="0.261">2</text>
<text transform="translate(1355.45 909.60) scale(0.9588 1)" font-size="21.22" fill="#000000" stroke="#000000" stroke-width="0.261">0</text>
<polygon points="1373.70,894.98 1375.08,894.98 1375.08,908.02 1378.12,908.02 1378.12,909.60 1370.20,909.60 1370.20,908.02 1372.99,908.02 1372.99,898.18 1370.20,898.52 1370.20,897.35" fill="#000000"/>
<text transform="translate(1380.81 909.60) scale(0.9588 1)" font-size="21.22" fill="#000000" stroke="#000000" stroke-width="0.261">6</text>
<text transform="translate(1479.70 909.60) scale(0.9588 1)" font-size="21.22" fill="#000000" stroke="#000000" stroke-width="0.261">2</text>
<text transform="translate(1492.42 909.60) scale(0.9588 1)" font-size="21.22" fill="#000000" stroke="#000000" stroke-width="0.261">0</text>
<polygon points="1510.66,894.98 1512.04,894.98 1512.04,908.02 1515.08,908.02 1515.08,909.60 1507.16,909.60 1507.16,908.02 1509.95,908.02 1509.95,898.18 1507.16,898.52 1507.16,897.35" fill="#000000"/>
<text transform="translate(1517.84 909.60) scale(0.9588 1)" font-size="21.22" fill="#000000" stroke="#000000" stroke-width="0.261">8</text>
<text transform="translate(754.10 955.30) scale(0.8976 1)" font-size="25.00" fill="#000000" stroke="#000000" stroke-width="0.334">P</text>
<text transform="translate(768.67 955.30) scale(1.2444 1)" font-size="25.00" fill="#000000" stroke="#000000" stroke-width="0.241">r</text>
<text transform="translate(779.47 955.30) scale(1.0200 1)" font-size="25.00" fill="#000000" stroke="#000000" stroke-width="0.294">i</text>
<text transform="translate(785.87 955.30) scale(0.9690 1)" font-size="25.00" fill="#000000" stroke="#000000" stroke-width="0.310">s</text>
<text transform="translate(798.27 955.30) scale(1.0200 1)" font-size="25.00" fill="#000000" stroke="#000000" stroke-width="0.294">o</text>
<text transform="translate(813.15 955.30) scale(1.0200 1)" font-size="25.00" fill="#000000" stroke="#000000" stroke-width="0.294">n</text>
<text transform="translate(836.78 955.30) scale(1.0200 1)" font-size="25.00" fill="#000000" stroke="#000000" stroke-width="0.294">p</text>
<text transform="translate(851.46 955.30) scale(1.0200 1)" font-size="25.00" fill="#000000" stroke="#000000" stroke-width="0.294">o</text>
<text transform="translate(866.30 955.30) scale(1.0200 1)" font-size="25.00" fill="#000000" stroke="#000000" stroke-width="0.294">p</text>
<text transform="translate(881.34 955.30) scale(1.0200 1)" font-size="25.00" fill="#000000" stroke="#000000" stroke-width="0.294">u</text>
<text transform="translate(896.46 955.30) scale(1.0200 1)" font-size="25.00" fill="#000000" stroke="#000000" stroke-width="0.294">l</text>
<text transform="translate(902.14 955.30) scale(1.0200 1)" font-size="25.00" fill="#000000" stroke="#000000" stroke-width="0.294">a</text>
<text transform="translate(917.70 955.30) scale(1.1220 1)" font-size="25.00" fill="#000000" stroke="#000000" stroke-width="0.267">t</text>
<text transform="translate(926.88 955.30) scale(1.0200 1)" font-size="25.00" fill="#000000" stroke="#000000" stroke-width="0.294">i</text>
<text transform="translate(933.18 955.30) scale(1.0200 1)" font-size="25.00" fill="#000000" stroke="#000000" stroke-width="0.294">o</text>
<text transform="translate(948.06 955.30) scale(1.0200 1)" font-size="25.00" fill="#000000" stroke="#000000" stroke-width="0.294">n</text>
<text transform="translate(971.11 955.30) scale(1.2444 1)" font-size="25.00" fill="#000000" stroke="#000000" stroke-width="0.241">r</text>
<text transform="translate(981.03 955.30) scale(1.0200 1)" font-size="25.00" fill="#000000" stroke="#000000" stroke-width="0.294">a</text>
<text transform="translate(996.59 955.30) scale(1.1220 1)" font-size="25.00" fill="#000000" stroke="#000000" stroke-width="0.267">t</text>
<text transform="translate(1005.41 955.30) scale(1.0200 1)" font-size="25.00" fill="#000000" stroke="#000000" stroke-width="0.294">e</text>
</svg>
</body></html>
